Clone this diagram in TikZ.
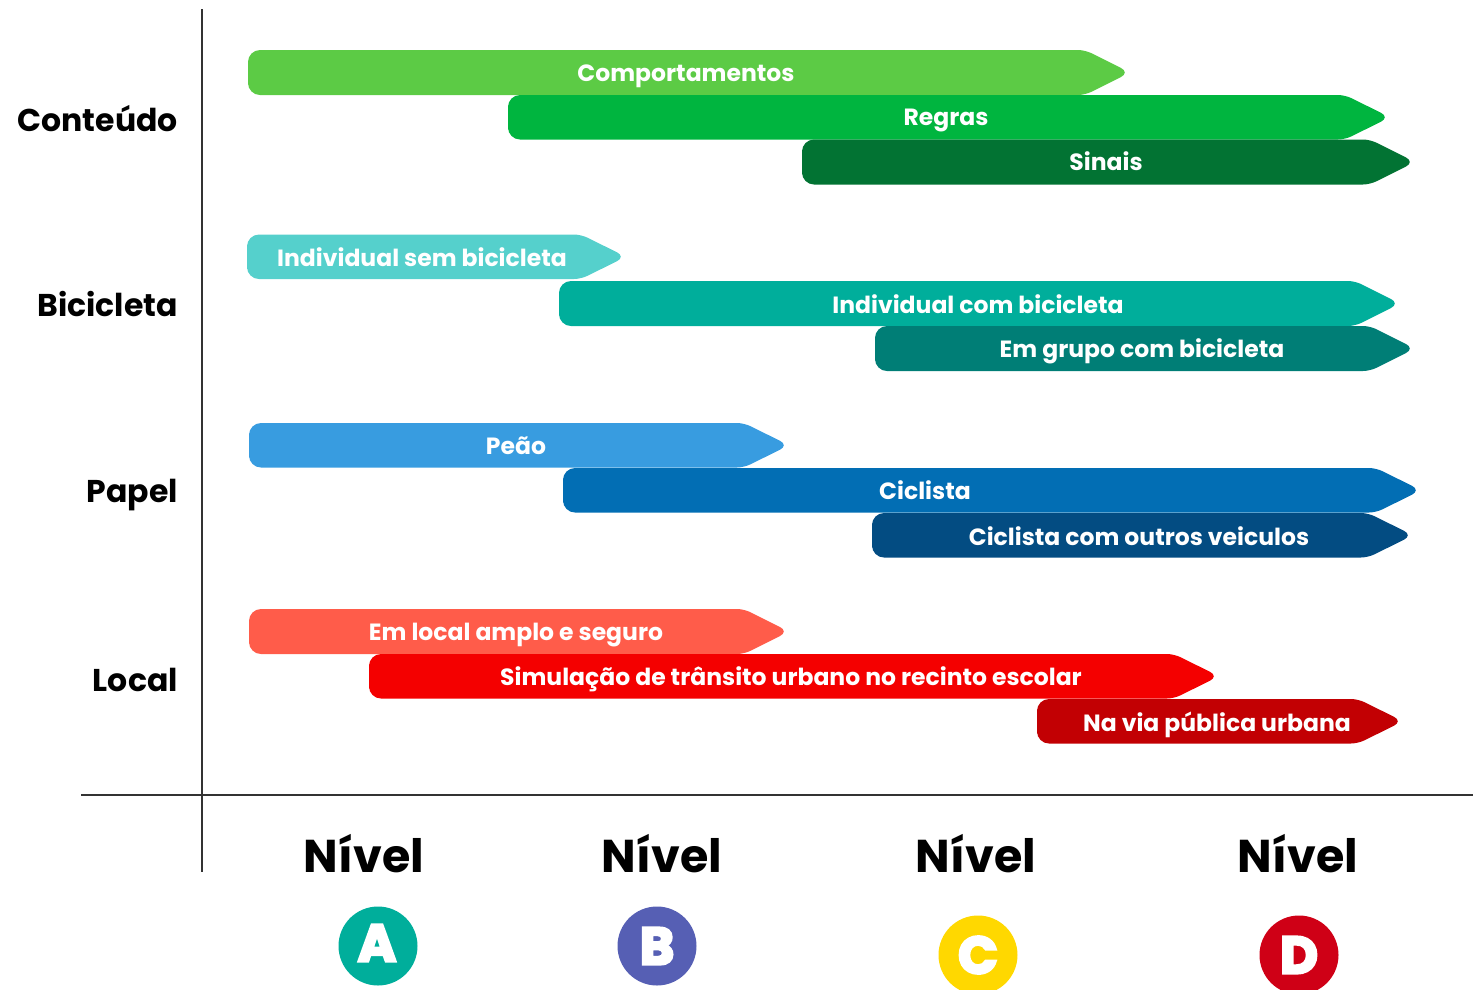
\documentclass[tikz,border=0pt]{standalone}
\usepackage{fontspec}
\setmainfont{Poppins}[BoldFont=* Bold]
\newfontfamily\heavyfont{Poppins}[UprightFeatures={FakeBold=5},BoldFont=* Bold,BoldFeatures={FakeBold=5}]
\definecolor{cA}{HTML}{5CCB45}\definecolor{cB}{HTML}{00B53F}\definecolor{cC}{HTML}{027333}
\definecolor{cD}{HTML}{55D0CC}\definecolor{cE}{HTML}{00AE9B}\definecolor{cF}{HTML}{007E76}
\definecolor{cG}{HTML}{389CE0}\definecolor{cH}{HTML}{026EB4}\definecolor{cI}{HTML}{034C82}
\definecolor{cJ}{HTML}{FF5C4A}\definecolor{cK}{HTML}{F40000}\definecolor{cL}{HTML}{C20003}
\definecolor{axisc}{HTML}{333333}
\definecolor{lvA}{HTML}{00AE9B}\definecolor{lvB}{HTML}{565FB4}\definecolor{lvC}{HTML}{FFD800}\definecolor{lvD}{HTML}{CF0016}
\tikzset{
  barlabel/.style={text=white,font=\bfseries\fontsize{23.5}{23.5}\selectfont,inner sep=0pt,anchor=base},
  rowlabel/.style={text=black,font=\bfseries\fontsize{31.5}{31.5}\selectfont,inner sep=0pt,anchor=base east},
  level/.style={text=black,font=\bfseries\fontsize{46}{46}\selectfont,inner sep=0pt,anchor=base},
  levelmark/.style={circle,minimum size=79pt,inner sep=0pt,fill=#1},
  markletter/.style={text=white,font=\heavyfont\bfseries\fontsize{52}{52}\selectfont,inner sep=0pt,anchor=center},
  axisline/.style={draw=axisc,line width=1.6pt}
}
% name, left, right tip, top, bottom, colour, text x, text baseline y, text
\newcommand{\pathbar}[9]{%
  \fill[#6,rounded corners=12pt] (#2,#4/2+#5/2) -- (#2,#4) [rounded corners=7pt] -- (#3-40,#4) [rounded corners=10pt] -- (#3+5,#4/2+#5/2) [rounded corners=7pt] -- (#3-40,#5) [rounded corners=12pt] -- (#2,#5) -- cycle;
  \node[barlabel] (#1) at (#7,#8+8) {#9};
}
\begin{document}
\begin{tikzpicture}[x=1pt,y=-1pt]
\useasboundingbox (0,0) rectangle (1473,989);
\pathbar{comp}{248}{1125}{50}{95}{cA}{686}{73}{Comportamentos}
\pathbar{regras}{508}{1385}{95}{139.5}{cB}{946}{117.5}{Regras}
\pathbar{sinais}{802}{1410}{139.5}{184.5}{cC}{1106}{162.5}{Sinais}
\pathbar{sem}{247}{621}{234.5}{279}{cD}{422}{258}{Individual sem bicicleta}
\pathbar{com}{559}{1395}{281}{326}{cE}{978}{305}{Individual com bicicleta}
\pathbar{grupo}{875}{1410}{326}{371}{cF}{1142}{349}{Em grupo com bicicleta}
\pathbar{peao}{249}{784}{423}{467.5}{cG}{516}{446}{Peão}
\pathbar{ciclista}{563}{1416}{468}{512.5}{cH}{925}{491}{Ciclista}
\pathbar{outros}{872}{1408}{513}{557.5}{cI}{1139}{537}{Ciclista com outros veiculos}
\pathbar{amplo}{249}{784}{609}{654}{cJ}{516}{632}{Em local amplo e seguro}
\pathbar{simul}{369}{1214}{654}{698.5}{cK}{791}{677}{Simulação de trânsito urbano no recinto escolar}
\pathbar{via}{1037}{1398}{699}{743.5}{cL}{1217}{723}{Na via pública urbana}
\coordinate (vtop) at (202,9);
\coordinate (vbot) at (202,872);
\coordinate (hleft) at (81,795);
\coordinate (hright) at (1473,795);
\draw[axisline] (vtop) -- (vbot);
\draw[axisline] (hleft) -- (hright);
\node[rowlabel] (conteudo) at (178,131.5) {Conteúdo};
\node[rowlabel] (bicicleta) at (178,316.5) {Bicicleta};
\node[rowlabel] (papel) at (178,502.5) {Papel};
\node[rowlabel] (local) at (178,691.5) {Local};
\node[level] (n1) at (364,872) {Nível};
\node[level] (n2) at (662,872) {Nível};
\node[level] (n3) at (976,872) {Nível};
\node[level] (n4) at (1298,872) {Nível};
\begin{scope}
\clip (0,0) rectangle (1473,989);
\node[levelmark=lvA] (a) at (378,946) {};
\node[levelmark=lvB] (b) at (657,946) {};
\node[levelmark=lvC] (c) at (978,955) {};
\node[levelmark=lvD] (d) at (1299,955) {};
\node[markletter] (la) at (377,943) {A};
\node[markletter] (lb) at (657,946) {B};
\node[markletter] (lc) at (978,955) {C};
\node[markletter] (ld) at (1299,955) {D};
\end{scope}
\end{tikzpicture}
\end{document}
